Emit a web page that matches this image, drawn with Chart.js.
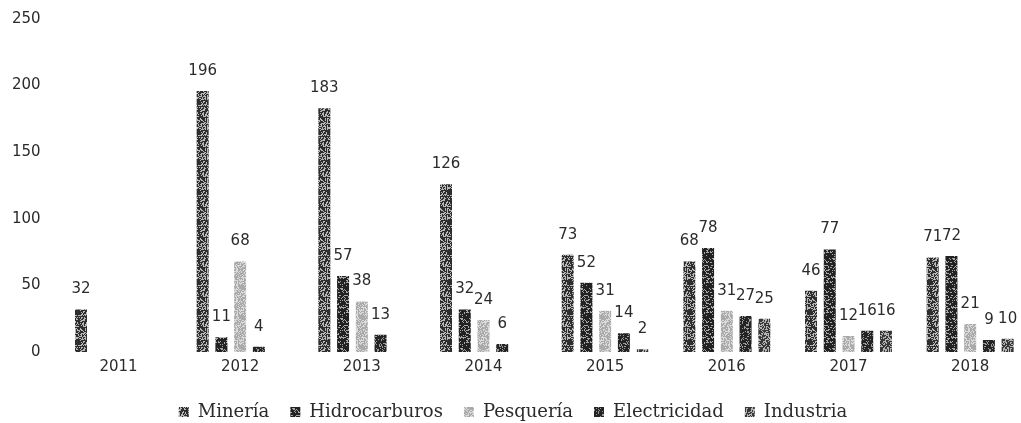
<!DOCTYPE html>
<html>
<head>
<meta charset="utf-8">
<script src="https://cdn.jsdelivr.net/npm/chart.js@4"></script>
<style>
  html, body { margin: 0; padding: 0; background: #fff; overflow: hidden; }
  #wrap { position: relative; width: 1034px; height: 431px; }
</style>
</head>
<body>
<div id="wrap"><canvas id="c" width="1034" height="431"></canvas></div>
<script>
const years = ['2011', '2012', '2013', '2014', '2015', '2016', '2017', '2018'];
const mineria = [32, 196, 183, 126, 73, 68, 46, 71];
const hidrocarburos = [null, 11, 57, 32, 52, 78, 77, 72];
const pesqueria = [null, 68, 38, 24, 31, 31, 12, 21];
const electricidad = [null, 4, 13, 6, 14, 27, 16, 9];
const industria = [null, null, null, null, 2, 25, 16, 10];
const seriesNames = ['Minería', 'Hidrocarburos', 'Pesquería', 'Electricidad', 'Industria'];
const yTicks = [0, 50, 100, 150, 200, 250];

// speckled texture to imitate the printed halftone
function makePattern(base, speck, density, seed) {
  const c = document.createElement('canvas');
  c.width = 12; c.height = 30;
  const g = c.getContext('2d');
  g.fillStyle = base;
  g.fillRect(0, 0, c.width, c.height);
  let s = seed;
  g.fillStyle = speck;
  for (let y = 0; y < c.height; y++) {
    for (let x = 0; x < c.width; x++) {
      s = (s * 1103515245 + 12345) & 0x7fffffff;
      if (((s >>> 8) % 100) < density) g.fillRect(x, y, 1, 1);
    }
  }
  return g.createPattern(c, 'repeat');
}

const fills = [
  makePattern('#2e2e2e', '#b8b8b8', 38, 11),
  makePattern('#222222', '#a8a8a8', 28, 23),
  makePattern('#aaaaaa', '#dadada', 42, 37),
  makePattern('#242424', '#9a9a9a', 24, 41),
  makePattern('#383838', '#b4b4b4', 42, 53)
];

const valueLabels = {
  id: 'valueLabels',
  afterDatasetsDraw(chart) {
    const ctx = chart.ctx;
    ctx.save();
    ctx.font = '15px "DejaVu Sans"';
    ctx.fillStyle = '#2b2b2b';
    ctx.textAlign = 'center';
    ctx.textBaseline = 'alphabetic';
    chart.data.datasets.forEach((ds, i) => {
      const meta = chart.getDatasetMeta(i);
      meta.data.forEach((el, j) => {
        const v = ds.data[j];
        if (v === null || v === undefined) return;
        ctx.fillText(String(v), el.x, el.y - 16);
      });
    });
    ctx.restore();
  }
};

const seriesData = [mineria, hidrocarburos, pesqueria, electricidad, industria];

new Chart(document.getElementById('c'), {
  type: 'bar',
  data: {
    labels: years,
    datasets: seriesData.map((d, i) => ({
      label: seriesNames[i],
      data: d,
      backgroundColor: fills[i],
      borderWidth: 0,
      categoryPercentage: 0.77,
      barPercentage: 0.64
    }))
  },
  options: {
    responsive: false,
    animation: false,
    devicePixelRatio: 1,
    layout: { padding: { left: -5, right: 3, top: 19, bottom: 0 } },
    scales: {
      x: {
        grid: { display: false, drawTicks: false },
        border: { display: false },
        ticks: { padding: 6, color: '#2b2b2b', font: { family: 'DejaVu Sans', size: 15 } }
      },
      y: {
        min: 0,
        max: 250,
        afterBuildTicks(scale) { scale.ticks = yTicks.map(v => ({ value: v })); },
        afterFit(scale) { scale.paddingTop = 0; scale.paddingBottom = 0; },
        grid: { display: false, drawTicks: false },
        border: { display: false },
        ticks: { padding: 17, color: '#2b2b2b', font: { family: 'DejaVu Sans', size: 15 } }
      }
    },
    plugins: {
      legend: {
        position: 'bottom',
        labels: {
          boxWidth: 10,
          boxHeight: 10,
          padding: 21,
          color: '#2b2b2b',
          font: { family: 'DejaVu Serif', size: 18 }
        }
      },
      tooltip: { enabled: false }
    }
  },
  plugins: [valueLabels]
});
</script>
</body>
</html>
